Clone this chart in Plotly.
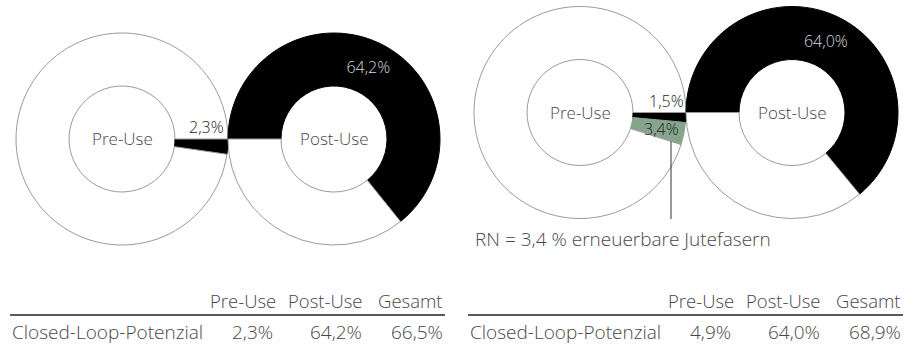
import math
import plotly.graph_objects as go

W, H = 916, 347

# ---------------- data ----------------
ring_labels = ["Pre-Use", "Post-Use"]
# left panel
left_pre_labels = ["Closed-Loop", "Rest"]
left_pre_values = [2.3, 97.7]
left_post_labels = ["Closed-Loop", "Rest"]
left_post_values = [64.2, 35.8]
# right panel
right_pre_labels = ["Closed-Loop", "RN Jute", "Rest"]
right_pre_values = [1.5, 3.4, 95.1]
right_post_labels = ["Closed-Loop", "Rest"]
right_post_values = [64.0, 36.0]

table_columns = ["Pre-Use", "Post-Use", "Gesamt"]
table_row_label = "Closed-Loop-Potenzial"
left_table_values = ["2,3%", "64,2%", "66,5%"]
right_table_values = ["4,9%", "64,0%", "68,9%"]
rn_note = "RN = 3,4 % erneuerbare Jutefasern"

# ---------------- style ----------------
FONT = "Open Sans"
WEIGHT = 300
TXT = "#474747"
GRAY = "#9a9a9a"
GREEN = "#87a48c"
HOLE = 0.5


def px(x):
    return x / W


def py(y):
    return 1 - y / H


# ring geometry (layout, pixels)
rings = {
    "lpre": dict(cx=122, cy=139, r=106),
    "lpost": dict(cx=334, cy=139, r=106),
    "rpre": dict(cx=580, cy=112.5, r=106),
    "rpost": dict(cx=792, cy=112.5, r=106),
}


def dom(g):
    return dict(x=[px(g["cx"] - g["r"]), px(g["cx"] + g["r"])],
                y=[py(g["cy"] + g["r"]), py(g["cy"] - g["r"])])


def polar(g, frac_from_start, start_deg, rr):
    """screen position for a fraction of the full circle measured clockwise
    from start_deg (0 = 3 o'clock, clockwise positive on screen)."""
    a = math.radians(start_deg + 360 * frac_from_start)
    return g["cx"] + rr * math.cos(a), g["cy"] + rr * math.sin(a)


fig = go.Figure()


def add_ring(key, labels, values, colors, line_colors, rotation, textcolors, texts):
    fig.add_trace(go.Pie(
        labels=labels, values=values, sort=False, direction="clockwise",
        rotation=rotation, hole=HOLE, domain=dom(rings[key]),
        marker=dict(colors=colors, line=dict(color=line_colors, width=1)),
        text=texts, textinfo="text", textposition="inside",
        insidetextorientation="horizontal",
        textfont=dict(family=FONT, size=16, color=textcolors, weight=WEIGHT),
        hoverinfo="skip", showlegend=False,
    ))


pct = lambda v: (f"{v:.1f}%").replace(".", ",")

add_ring("lpre", left_pre_labels, left_pre_values, ["black", "white"], ["black", GRAY], 90,
         ["white", TXT], ["", ""])
add_ring("lpost", left_post_labels, left_post_values, ["black", "white"], ["black", GRAY], 270,
         ["#d8d8d8", TXT], [pct(left_post_values[0]), ""])
add_ring("rpre", right_pre_labels, right_pre_values, ["black", GREEN, "white"],
         ["black", GREEN, GRAY], 90, ["white", TXT, TXT], ["", "", ""])
add_ring("rpost", right_post_labels, right_post_values, ["black", "white"], ["black", GRAY], 270,
         ["#d8d8d8", TXT], [pct(right_post_values[0]), ""])

ann = []


def text(x, y, s, xanchor="center", yanchor="middle", size=16, color=TXT):
    ann.append(dict(x=px(x), y=py(y), xref="paper", yref="paper", text=s, showarrow=False,
                    xanchor=xanchor, yanchor=yanchor,
                    font=dict(family=FONT, size=size, color=color, weight=WEIGHT)))


# centre labels
for key, lab in [("lpre", ring_labels[0]), ("lpost", ring_labels[1]),
                 ("rpre", ring_labels[0]), ("rpost", ring_labels[1])]:
    g = rings[key]
    text(g["cx"], g["cy"], lab, size=17)

# small slice labels (position derived from slice angles)
g = rings["lpre"]
x, y = polar(g, 0, 0, 84)
text(x, y + 1, pct(left_pre_values[0]), yanchor="bottom", size=16, color="#222222")

g = rings["rpre"]
x, y = polar(g, 0, 0, 86)
text(x, y + 1.5, pct(right_pre_values[0]), yanchor="bottom", size=16, color="#222222")
mid = (right_pre_values[0] + right_pre_values[1] / 2) / 100
x, y = polar(g, mid, 0, 83)
text(x, y, pct(right_pre_values[1]), size=16, color="#222222")

# leader line from the green slice down to the note
end = (right_pre_values[0] + right_pre_values[1]) / 100
lx = g["cx"] + 91
ly0 = g["cy"] + 91 * math.tan(math.radians(360 * end))
shapes = [dict(type="line", xref="paper", yref="paper", x0=px(lx), x1=px(lx),
               y0=py(ly0), y1=py(219), line=dict(color="#333333", width=1))]
text(473, 239, rn_note, xanchor="left", size=19)

# tables
for off, vals in [(0, left_table_values), (458, right_table_values)]:
    head_right = [278 + off, 365 + off, 445 + off]
    val_right = [275 + off, 364 + off, 445 + off]
    for cx_, col in zip(head_right, table_columns):
        text(cx_, 300, col, xanchor="right", size=18.5)
    text(10 + off, 332, table_row_label, xanchor="left", size=19)
    for cx_, v in zip(val_right, vals):
        text(cx_, 332, v, xanchor="right", size=19)
    shapes.append(dict(type="line", xref="paper", yref="paper", x0=px(10 + off), x1=px(445 + off),
                       y0=py(315), y1=py(315), line=dict(color="#222222", width=1.5)))

fig.update_layout(
    width=W, height=H, margin=dict(l=0, r=0, t=0, b=0),
    paper_bgcolor="white", plot_bgcolor="white",
    separators=",.", annotations=ann, shapes=shapes,
    font=dict(family=FONT, color=TXT),
)

fig.write_html("out.html", config={"displayModeBar": False},
               post_script="document.body.style.margin='0px';")
